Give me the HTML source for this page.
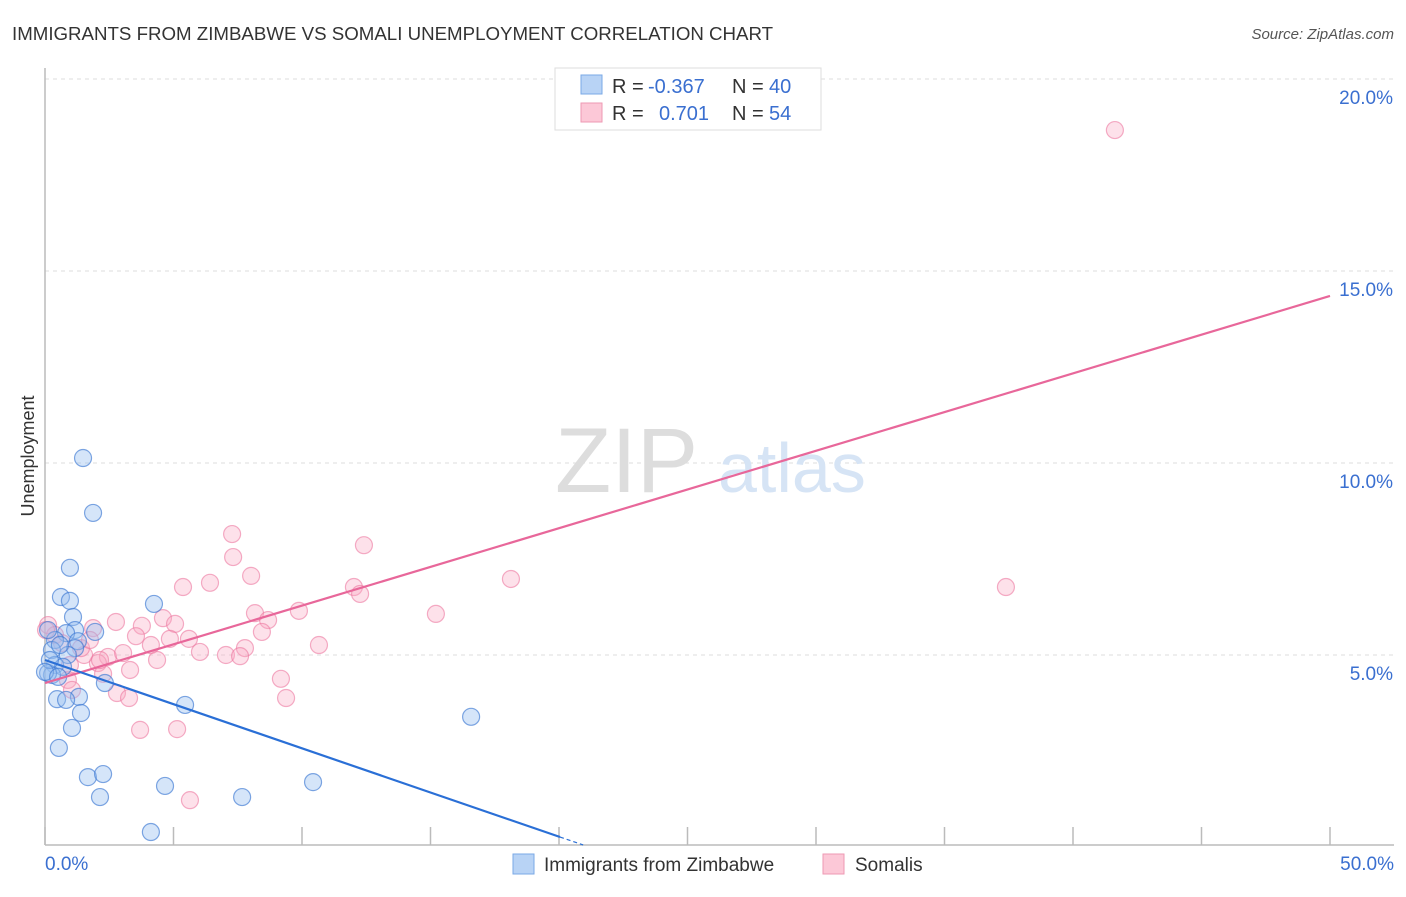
<!DOCTYPE html>
<html><head><meta charset="utf-8"><style>
body{margin:0;background:#fff;font-family:"Liberation Sans",sans-serif;}
svg text{font-family:"Liberation Sans",sans-serif;}
</style></head><body>
<svg width="1406" height="892" xmlns="http://www.w3.org/2000/svg" id="chart">
<text x="12" y="40" font-size="18.7" fill="#333">IMMIGRANTS FROM ZIMBABWE VS SOMALI UNEMPLOYMENT CORRELATION CHART</text>
<text x="1394" y="39" font-size="15" fill="#555" font-style="italic" text-anchor="end">Source: ZipAtlas.com</text>
<text x="34" y="456" font-size="18" fill="#333" text-anchor="middle" transform="rotate(-90 34 456)">Unemployment</text>
<g id="grid"></g>
<line x1="45" y1="68" x2="45" y2="845" stroke="#bbb" stroke-width="1.5"/>
<line x1="45" y1="845" x2="1394" y2="845" stroke="#bbb" stroke-width="1.5"/>
<text x="555" y="492" font-size="92" fill="#ddd" font-family="Liberation Serif">ZIP</text>
<text x="718" y="492" font-size="70" fill="#d6e4f5">atlas</text>
<g id="ticks"></g>
<g id="pts"></g>
<g id="trends"></g>
<g>
<rect x="555" y="68" width="266" height="62" fill="#fff" stroke="#ddd"/>
<rect x="581" y="75" width="21" height="19" fill="#b8d3f5" stroke="#7aa8e6"/>
<rect x="581" y="103" width="21" height="19" fill="#fcc8d7" stroke="#ee99b3"/>
<text x="612" y="93" font-size="20" fill="#333">R =</text>
<text x="648" y="93" font-size="20" fill="#3a6fd0">-0.367</text>
<text x="732" y="93" font-size="20" fill="#333">N =</text>
<text x="769" y="93" font-size="20" fill="#3a6fd0">40</text>
<text x="612" y="120" font-size="20" fill="#333">R =</text>
<text x="659" y="120" font-size="20" fill="#3a6fd0">0.701</text>
<text x="732" y="120" font-size="20" fill="#333">N =</text>
<text x="769" y="120" font-size="20" fill="#3a6fd0">54</text>
</g>
<g>
<rect x="513" y="854" width="21" height="20" fill="#b8d3f5" stroke="#7aa8e6"/>
<text x="544" y="871" font-size="19" fill="#333">Immigrants from Zimbabwe</text>
<rect x="823" y="854" width="21" height="20" fill="#fcc8d7" stroke="#ee99b3"/>
<text x="855" y="871" font-size="19" fill="#333">Somalis</text>
</g>
</svg>
<script>
const yTicks=[5,10,15,20];
const yTickLabels=["5.0%","10.0%","15.0%","20.0%"];
const xTicks=[0,5,10,15,20,25,30,35,40,45,50];
const xEndLabels=["0.0%","50.0%"];
const blueX=[1.48,1.87,0.97,0.62,0.97,4.24,1.09,1.17,1.95,0.82,0.39,1.28,0.27,1.17,0.89,0.39,0.70,0.27,0.12,2.33,1.32,0.47,0.82,1.40,5.45,1.05,16.58,0.54,1.67,2.26,2.14,4.67,7.67,10.43,4.12,0.12,0.58,0.19,0.0,0.51];
const blueY=[10.13,8.70,7.27,6.51,6.41,6.33,5.99,5.65,5.60,5.57,5.39,5.36,5.13,5.18,5.00,4.74,4.69,4.48,4.53,4.27,3.91,3.85,3.83,3.49,3.70,3.10,3.39,2.58,1.82,1.90,1.30,1.59,1.30,1.69,0.39,5.65,5.26,4.87,4.56,4.43];
const pinkX=[41.63,7.28,12.41,7.32,8.02,5.37,6.42,12.02,18.13,37.39,12.26,9.88,15.21,8.17,4.59,2.76,3.77,8.68,5.06,1.87,3.54,5.60,8.44,4.12,4.86,10.66,7.78,6.03,7.04,7.59,4.36,2.45,2.06,1.52,1.40,3.04,2.26,0.89,1.05,9.18,2.80,9.38,3.27,3.70,5.14,5.64,0.12,0.39,0.66,1.75,2.14,0.97,3.31,0.04];
const pinkY=[18.67,8.15,7.86,7.55,7.06,6.77,6.88,6.77,6.98,6.77,6.59,6.15,6.07,6.09,5.96,5.86,5.76,5.91,5.81,5.70,5.49,5.42,5.60,5.26,5.42,5.26,5.18,5.08,5.00,4.97,4.87,4.95,4.79,5.00,5.18,5.05,4.51,4.35,4.09,4.38,4.01,3.88,3.88,3.05,3.07,1.22,5.78,5.52,5.31,5.39,4.87,4.74,4.61,5.65];
const blueTrend=[4.87,0.26,20.04];   // y at 0, y at xEnd, xEnd
const pinkTrend=[4.27,14.35,50];
const X=v=>45+v*25.7, Y=v=>847-v*38.4;
const NS="http://www.w3.org/2000/svg";
function mk(tag,attrs,parent){const e=document.createElementNS(NS,tag);for(const k in attrs)e.setAttribute(k,attrs[k]);parent.appendChild(e);return e;}
const grid=document.getElementById('grid'),ticks=document.getElementById('ticks'),pts=document.getElementById('pts'),tr=document.getElementById('trends');
yTicks.forEach((t,i)=>{
 const l=mk('line',{x1:45,x2:1394,y1:Y(t),y2:Y(t),stroke:'#ddd','stroke-dasharray':'4,4'},grid);
 
 
 const tx=mk('text',{x:1393,y:Y(t)+25,'font-size':19,fill:'#3a6fd0','text-anchor':'end'},ticks);
 tx.textContent=yTickLabels[i];
 
 
});
xTicks.forEach(t=>{
 const l=mk('line',{x1:X(t),x2:X(t),y1:827,y2:845,stroke:'#bbb','stroke-width':1.5},ticks);
 
 
});
[[0,xEndLabels[0],'start',45],[50,xEndLabels[1],'end',1394]].forEach(a=>{
 const tx=mk('text',{x:a[3],y:870,'font-size':19,fill:'#3a6fd0','text-anchor':a[2]},ticks);
 tx.textContent=a[1];
 
 
});
pinkX.forEach((v,i)=>{
 const c=mk('circle',{cx:X(v),cy:Y(pinkY[i]),r:8.5,fill:'rgba(248,170,195,0.35)',stroke:'rgba(236,120,160,0.6)','stroke-width':1.2},pts);
 
 
});
blueX.forEach((v,i)=>{
 const c=mk('circle',{cx:X(v),cy:Y(blueY[i]),r:8.5,fill:'rgba(150,190,240,0.4)',stroke:'rgba(60,120,210,0.65)','stroke-width':1.2},pts);
 
 
});
const pl=mk('line',{x1:X(0),y1:Y(pinkTrend[0]),x2:X(pinkTrend[2]),y2:Y(pinkTrend[1]),stroke:'#e8679a','stroke-width':2.2},tr);


const bl=mk('line',{x1:X(0),y1:Y(blueTrend[0]),x2:X(blueTrend[2]),y2:Y(blueTrend[1]),stroke:'#2a6fd6','stroke-width':2.2},tr);


const s=(blueTrend[1]-blueTrend[0])/blueTrend[2];
const bd=mk('line',{x1:X(blueTrend[2]),y1:Y(blueTrend[1]),x2:X(blueTrend[2]+0.9),y2:Y(blueTrend[1]+s*0.9),stroke:'#2a6fd6','stroke-width':1.2,'stroke-dasharray':'4,3'},tr);


</script>
</body></html>
